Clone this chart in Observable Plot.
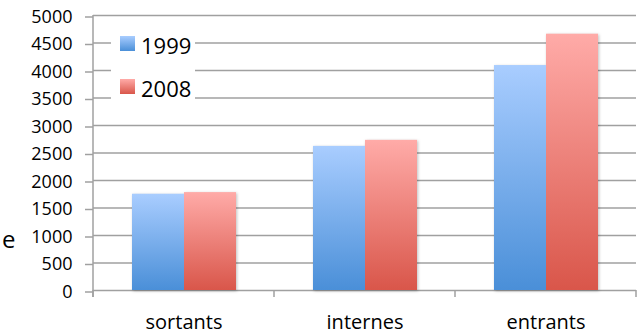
<!DOCTYPE html>
<html>
<head>
<meta charset="utf-8">
<script src="https://cdn.jsdelivr.net/npm/d3@7"></script>
<script src="https://cdn.jsdelivr.net/npm/@observablehq/plot@0.6"></script>
<style>
  body { margin: 0; background: #fff; }
  #chart { position: relative; width: 637px; height: 334px; font-family: "Open Sans", sans-serif; }
  #legend { position: absolute; left: 111px; top: 27px; width: 84px; height: 82px; background: #fff; }
  .item { position: absolute; left: 9px; height: 15px; }
  .swatch { position: absolute; left: 0; top: 0; width: 15px; height: 15px; }
  .label { position: absolute; left: 21px; top: 2px; font-size: 22px; line-height: 15px; color: #000; white-space: nowrap; }
  #side { position: absolute; left: 2px; top: 227px; font-size: 24px; line-height: 24px; color: #000; }
</style>
</head>
<body>
<div id="chart"></div>
<script>
// Flux par catégorie, 1999 et 2008
const categories = ["sortants", "internes", "entrants"];
const years = ["1999", "2008"];
const values1999 = [1750, 2620, 4090];
const values2008 = [1780, 2730, 4660];
const yTicks = [0, 500, 1000, 1500, 2000, 2500, 3000, 3500, 4000, 4500, 5000];

// Gradient stops (top, bottom) for each year
const gradients = {
  "1999": ["#a9cdff", "#4a8fd8"],
  "2008": ["#ffaba8", "#d9564a"]
};

const data = categories.flatMap((category, i) => [
  {category, year: years[0], value: values1999[i]},
  {category, year: years[1], value: values2008[i]}
]);

const gridColor = "#a0a0a0";

const plot = Plot.plot({
  width: 637,
  height: 334,
  marginLeft: 92,
  marginRight: 0,
  marginTop: 15,
  marginBottom: 44,
  style: {fontFamily: "'Open Sans', sans-serif", fontSize: "18px", color: "#000", background: "#fff"},
  fx: {domain: categories, padding: 0, label: null},
  x: {domain: years, paddingInner: 0, paddingOuter: 0.73, axis: null},
  y: {domain: [0, 5000], label: null},
  color: {domain: years, range: years.map(y => `url(#grad-${y})`)},
  marks: [
    Plot.gridY(yTicks, {stroke: gridColor, strokeOpacity: 1, strokeWidth: 1.5}),
    Plot.axisY(yTicks, {tickSize: 8, tickPadding: 13, stroke: gridColor, strokeWidth: 1.5, label: null, fontSize: 18, dy: 1.5, tickFormat: d => String(d)}),
    Plot.barY(data, {fx: "category", x: "year", y: "value", fill: "year"}),
    Plot.axisFx({anchor: "bottom", tickSize: 0, tickPadding: 24, fontSize: 20, label: null})
  ]
});

const svg = d3.select(plot);

// Vertical gradients, one per year, spanning each bar from top to bottom
const defs = svg.insert("defs", ":first-child");
for (const y of years) {
  const g = defs.append("linearGradient")
    .attr("id", `grad-${y}`)
    .attr("x1", 0).attr("y1", 0).attr("x2", 0).attr("y2", 1);
  g.append("stop").attr("offset", "0%").attr("stop-color", gradients[y][0]);
  g.append("stop").attr("offset", "100%").attr("stop-color", gradients[y][1]);
}

// Soft shadow around the bars
svg.selectAll("g[aria-label='bar']").style("filter", "drop-shadow(1px 1px 1.5px rgba(0,0,0,0.25))");

// Category boundary ticks under the baseline, and the vertical value axis line
const fx = plot.scale("fx");
const yS = plot.scale("y");
const base = yS.apply(0);
const tickLen = 7;
const bounds = categories.map(c => fx.apply(c));
bounds.push(fx.apply(categories[categories.length - 1]) + fx.bandwidth);
const ticks = svg.append("g").attr("stroke", gridColor).attr("stroke-width", 1.5);
ticks.selectAll("line.b").data(bounds).join("line")
  .attr("x1", d => d).attr("x2", d => d)
  .attr("y1", base).attr("y2", base + tickLen);
ticks.append("line")
  .attr("x1", bounds[0]).attr("x2", bounds[0])
  .attr("y1", yS.apply(5000)).attr("y2", base + tickLen);

const chart = document.getElementById("chart");
chart.appendChild(plot);

// Legend placed inside the plot area
const legend = document.createElement("div");
legend.id = "legend";
years.forEach((y, i) => {
  const item = document.createElement("div");
  item.className = "item";
  item.style.top = (9 + i * 43) + "px";
  const sw = document.createElement("div");
  sw.className = "swatch";
  sw.style.background = `linear-gradient(${gradients[y][0]}, ${gradients[y][1]})`;
  const lab = document.createElement("div");
  lab.className = "label";
  lab.textContent = y;
  item.appendChild(sw);
  item.appendChild(lab);
  legend.appendChild(item);
});
chart.appendChild(legend);

const side = document.createElement("div");
side.id = "side";
side.textContent = "e";
chart.appendChild(side);
</script>
</body>
</html>
